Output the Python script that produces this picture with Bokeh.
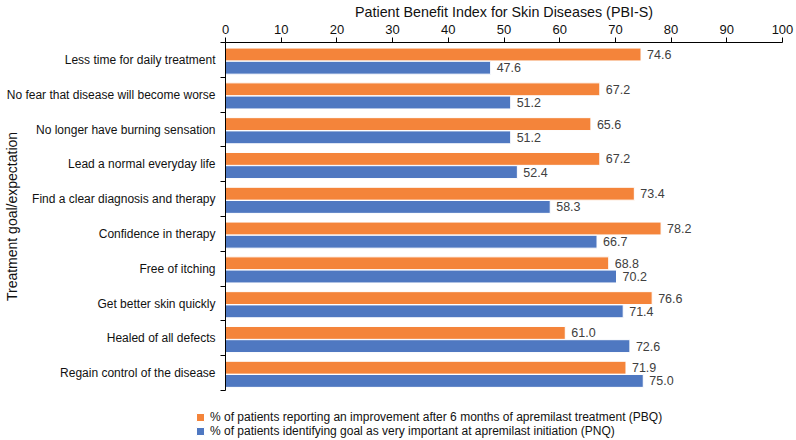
from bokeh.plotting import figure
from bokeh.layouts import column
from bokeh.models import (ColumnDataSource, Range1d, FixedTicker, Legend, LegendItem,
                          LabelSet)
from bokeh.core.properties import value
from bokeh.embed import file_html
from bokeh.resources import INLINE

categories = [
    "Less time for daily treatment",
    "No fear that disease will become worse",
    "No longer have burning sensation",
    "Lead a normal everyday life",
    "Find a clear diagnosis and therapy",
    "Confidence in therapy",
    "Free of itching",
    "Get better skin quickly",
    "Healed of all defects",
    "Regain control of the disease",
]
pbq = [74.6, 67.2, 65.6, 67.2, 73.4, 78.2, 68.8, 76.6, 61.0, 71.9]
pnq = [47.6, 51.2, 51.2, 52.4, 58.3, 66.7, 70.2, 71.4, 72.6, 75.0]
x_ticks = [0, 10, 20, 30, 40, 50, 60, 70, 80, 90, 100]

pbq_label = "% of patients reporting an improvement after 6 months of apremilast treatment (PBQ)"
pnq_label = "% of patients identifying goal as very important at apremilast initiation (PNQ)"

ORANGE = "#F4843A"
BLUE = "#4F78C1"
FONT = "Liberation Sans"
W = 794

n = len(categories)
idx = list(range(n))
bar_h = 0.37
src = ColumnDataSource(dict(
    cat=categories,
    pbq=pbq,
    pnq=pnq,
    y_o=[i + 0.345 for i in idx],
    y_b=[i + 0.725 for i in idx],
    pbq_txt=[f"{v:.1f}" for v in pbq],
    pnq_txt=[f"{v:.1f}" for v in pnq],
))

p = figure(width=W, height=392, output_backend="svg", toolbar_location=None,
           x_range=Range1d(0, 100), y_range=Range1d(n, 0),
           x_axis_location="above", min_border_left=200, min_border_right=12,
           min_border_bottom=2, min_border_top=0)
p.outline_line_color = None
p.xgrid.visible = False
p.ygrid.visible = False
p.background_fill_color = "white"

r_o = p.hbar(y="y_o", right="pbq", left=0, height=bar_h, source=src,
             fill_color=ORANGE, line_color="white", line_width=1)
r_b = p.hbar(y="y_b", right="pnq", left=0, height=bar_h, source=src,
             fill_color=BLUE, line_color="white", line_width=1)

lab_o = LabelSet(x="pbq", y="y_o", text="pbq_txt", source=src, x_offset=6,
                 text_baseline="middle", text_font_size=value("12.5px"),
                 text_font=value(FONT), text_color=value("#404040"))
lab_b = LabelSet(x="pnq", y="y_b", text="pnq_txt", source=src, x_offset=6,
                 text_baseline="middle", text_font_size=value("12.5px"),
                 text_font=value(FONT), text_color=value("#404040"))
p.add_layout(lab_o)
p.add_layout(lab_b)

# top axis
xa = p.xaxis[0]
xa.ticker = FixedTicker(ticks=x_ticks)
xa.axis_label = "Patient Benefit Index for Skin Diseases (PBI-S)"
xa.axis_label_text_font = FONT
xa.axis_label_text_font_size = "14.3px"
xa.axis_label_text_font_style = "normal"
xa.axis_label_text_color = "#111111"
xa.axis_label_standoff = 2
xa.major_label_text_font = FONT
xa.major_label_text_font_size = "13px"
xa.major_label_text_color = "#111111"
xa.major_label_standoff = 4
xa.major_tick_out = 5
xa.major_tick_in = 0
xa.minor_tick_out = 0
xa.minor_tick_in = 0
xa.axis_line_color = "black"
xa.major_tick_line_color = "black"

# left axis: labels at centres, ticks at boundaries
ya = p.yaxis[0]
ya.ticker = FixedTicker(ticks=[i + 0.5 for i in idx], minor_ticks=list(range(n + 1)))
ya.major_label_overrides = {i + 0.5: c for i, c in enumerate(categories)}
ya.major_label_text_font = FONT
ya.major_label_text_font_size = "12px"
ya.major_label_text_color = "#111111"
ya.major_label_standoff = 5
ya.major_tick_out = 0
ya.major_tick_in = 0
ya.minor_tick_out = 5
ya.minor_tick_in = 0
ya.minor_tick_line_color = "black"
ya.axis_line_color = "black"
ya.axis_label = "Treatment goal/expectation"
ya.axis_label_text_font = FONT
ya.axis_label_text_font_size = "14px"
ya.axis_label_text_font_style = "normal"
ya.axis_label_text_color = "#111111"
ya.axis_label_standoff = -16

# legend strip (swatch renderers hold no drawable coordinates)
nan = float("nan")
leg_src = ColumnDataSource(dict(y=[nan], right=[nan]))
p2 = figure(width=W, height=46, output_backend="svg", toolbar_location=None,
            x_range=Range1d(0, 1), y_range=Range1d(0, 1),
            min_border_left=0, min_border_right=0, min_border_top=0,
            min_border_bottom=0)
p2.frame_align = False
p2.axis.visible = False
p2.grid.visible = False
p2.outline_line_color = None
l_o = p2.hbar(y="y", right="right", height=0.5, source=leg_src,
              fill_color=ORANGE, line_color="white", line_width=1)
l_b = p2.hbar(y="y", right="right", height=0.5, source=leg_src,
              fill_color=BLUE, line_color="white", line_width=1)
legend = Legend(items=[LegendItem(label=pbq_label, renderers=[l_o]),
                       LegendItem(label=pnq_label, renderers=[l_b])],
                location=(195, 0), orientation="vertical",
                label_text_font=FONT, label_text_font_size="12px",
                label_text_color="#111111", glyph_width=10, glyph_height=10,
                label_standoff=5, spacing=0, padding=0, margin=0,
                label_height=14, border_line_color=None, background_fill_alpha=0)
p2.add_layout(legend, "center")

layout = column(p, p2, spacing=0)
open("out.html", "w").write(file_html(layout, INLINE))
